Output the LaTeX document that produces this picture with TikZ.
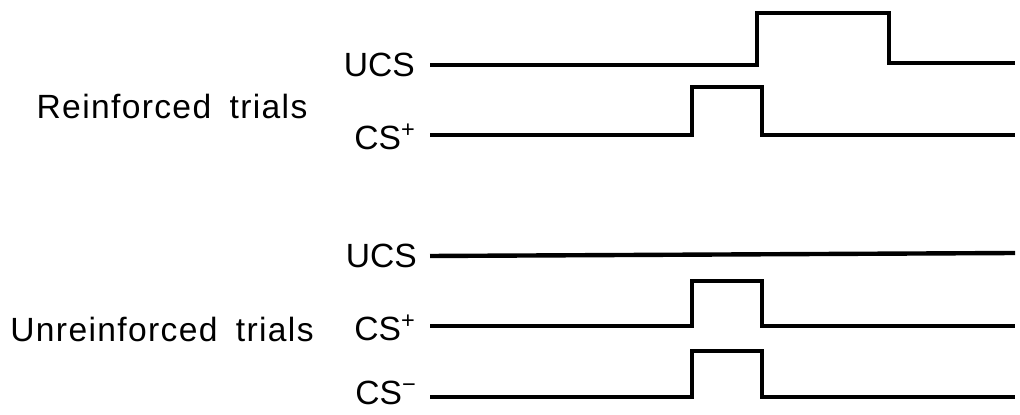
\documentclass[tikz,border=0pt]{standalone}
\usepackage{fontspec}
\setmainfont{Liberation Sans}
\newfontfamily\triallabel[LetterSpace=4]{Liberation Sans}
\begin{document}
\begin{tikzpicture}
  [x=0.5pt,y=-0.5pt,line width=2.2pt,
   every node/.style={inner sep=0pt,font=\fontsize{16.8}{20}\selectfont},
   sig/.style={anchor=east},
   trial/.style={font=\fontsize{16.8}{20}\selectfont\triallabel}]
  \useasboundingbox (0,0) rectangle (1020,415);

  \node[trial] (reinf) at (172,106) {Reinforced\hspace{0.55em}trials};
  \node[trial] (unreinf) at (162,329) {Unreinforced\hspace{0.55em}trials};

  \node[sig] (ucsA) at (417,65) {UCS};
  \node[sig] (csA) at (418,137) {CS\textsuperscript{+}};
  \node[sig] (ucsB) at (419,256) {UCS};
  \node[sig] (csB) at (418,328) {CS\textsuperscript{+}};
  \node[sig] (csC) at (419,393) {CS\textsuperscript{−}};

  % reinforced UCS
  \draw (430,65) -| (757,13) -| (889,63) -- (1015,63);

  % CS pulses
  \foreach \y/\t in {135/87, 326/281, 397/351}
    \draw (430,\y) -| (692,\t) -| (762,\y) -- (1015,\y);

  % unreinforced UCS
  \draw (430,256) -- (1015,253);

\end{tikzpicture}
\end{document}
